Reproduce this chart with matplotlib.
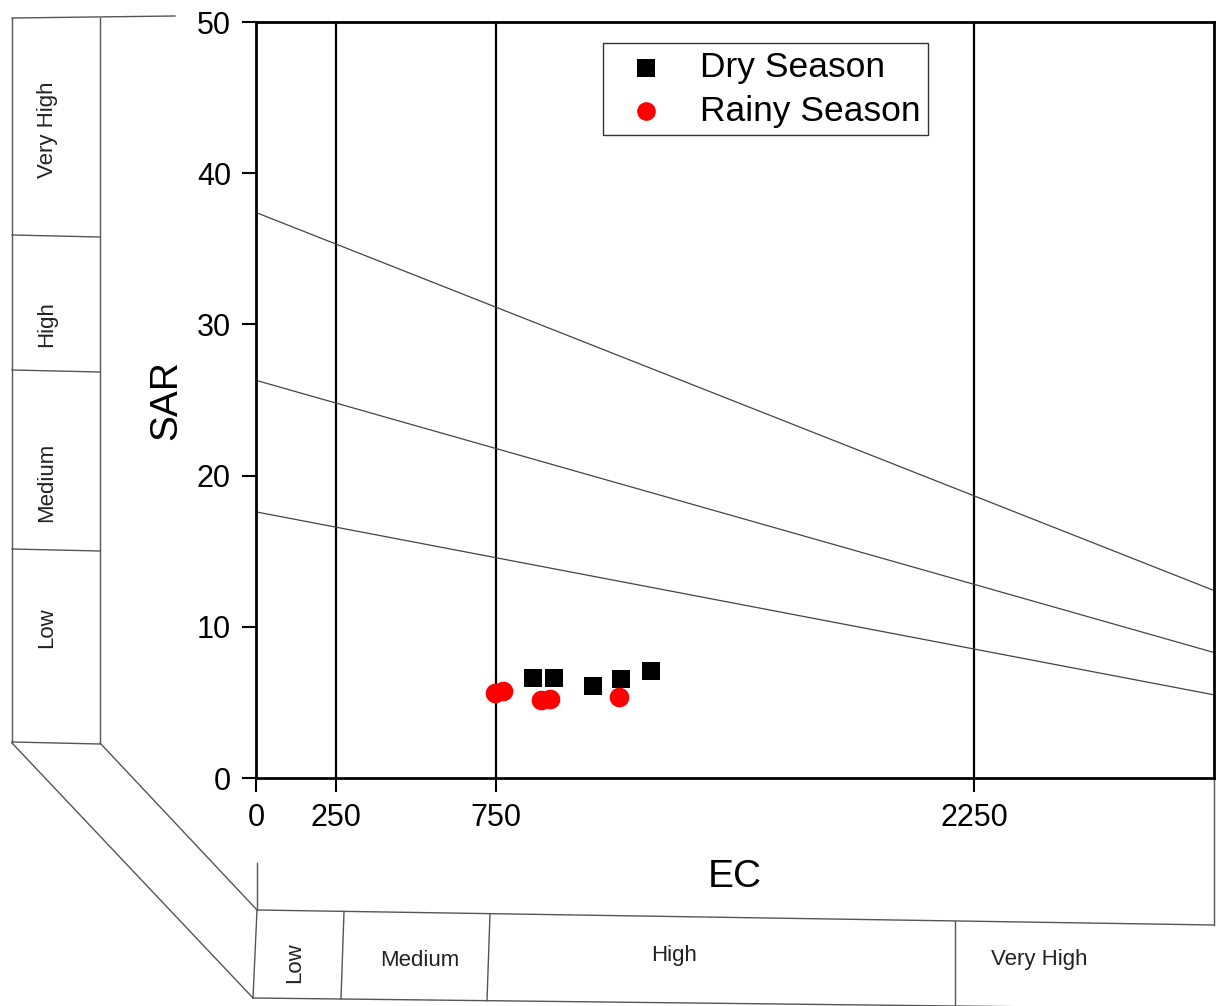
import matplotlib
matplotlib.use('Agg')
import matplotlib.pyplot as plt

plt.rcParams['font.family'] = ['Liberation Sans', 'DejaVu Sans']

# Data
dry_ec = [866, 933, 1055, 1144, 1238]
dry_sar = [6.59, 6.63, 6.10, 6.55, 7.08]
rainy_ec = [748, 774, 892, 920, 1136]
rainy_sar = [5.60, 5.77, 5.16, 5.20, 5.34]

# Salinity class limits (vertical lines) and sodium hazard boundaries
ec_limits = [250, 750, 2250]
ec_span = [0, 3000]
sar_bound_left = [37.4, 26.3, 17.6]
sar_bound_right = [12.4, 8.3, 5.5]

x_ticks = [0, 250, 750, 2250]
y_ticks = [0, 10, 20, 30, 40, 50]

sodium_classes = ['Very High', 'High', 'Medium', 'Low']
salinity_classes = ['Low', 'Medium', 'High', 'Very High']

W, H = 1219, 1006
fig = plt.figure(figsize=(W / 100, H / 100), dpi=100)
fig.patch.set_facecolor('white')

# overlay in pixel coordinates for the decorative class panels
bg = fig.add_axes([0, 0, 1, 1], zorder=0)
bg.set_xlim(0, W)
bg.set_ylim(H, 0)
bg.axis('off')
pc = '#555555'
lw = 1.0

# left panel (sodium hazard)
bg.plot([12, 175], [18, 16], color=pc, lw=lw)
bg.plot([12, 12], [18, 743], color=pc, lw=lw)
bg.plot([100, 100], [18, 743], color=pc, lw=lw)
for yy in [236, 371, 550, 743]:
    bg.plot([12, 100], [yy - 1, yy + 1], color=pc, lw=lw)
bg.plot([12, 253], [743, 998], color=pc, lw=lw)
bg.plot([100, 257], [743, 910], color=pc, lw=lw)
for lab, yc in zip(sodium_classes, [130, 324, 482, 628]):
    bg.text(47, yc, lab, rotation=90, ha='center', va='center', fontsize=16, color='#222222')

# bottom panel (salinity hazard)
def top_y(x):
    return 910 + (x - 257) * (925 - 910) / (1214 - 257)

def bot_y(x):
    return 998 + (x - 253) * (1006 - 998) / (955 - 253)

bg.plot([257, 1214], [910, 925], color=pc, lw=lw)
bg.plot([253, 1219], [998, bot_y(1219)], color=pc, lw=lw)
bg.plot([257, 257], [863, 910], color=pc, lw=lw)
bg.plot([257, 253], [910, 998], color=pc, lw=lw)
bg.plot([1214, 1214], [778, 925], color=pc, lw=lw)
for xt, xb in [(344, 341), (490, 487), (955, 955)]:
    bg.plot([xt, xb], [top_y(xt), bot_y(xb)], color=pc, lw=lw)
bg.text(295, 963, salinity_classes[0], rotation=90, ha='center', va='center', fontsize=16, color='#222222')
for lab, xc, yc in zip(salinity_classes[1:], [420, 674, 1039], [960, 955, 960]):
    bg.text(xc, yc, lab, ha='center', va='center', fontsize=16, color='#222222')

# main chart
ax = fig.add_axes([256 / W, 1 - 778 / H, 958 / W, 756 / H], zorder=1)

for xv in ec_limits:
    ax.axvline(xv, color='black', lw=1.6, zorder=1)
for yl, yr in zip(sar_bound_left, sar_bound_right):
    ax.plot(ec_span, [yl, yr], color='#444444', lw=0.9, zorder=1)

ax.scatter(dry_ec, dry_sar, marker='s', s=170, color='black', lw=0, zorder=3, label='Dry Season')
ax.scatter(rainy_ec, rainy_sar, marker='o', s=200, color='red', lw=0, zorder=3, label='Rainy Season')

ax.set_xlim(0, 3000)
ax.set_ylim(0, 50)
ax.set_xticks(x_ticks)
ax.set_yticks(y_ticks)
ax.tick_params(axis='both', direction='out', length=10, width=1.5, labelsize=22, pad=8)
for s in ax.spines.values():
    s.set_linewidth(2.0)

ax.set_ylabel('SAR', fontsize=28, labelpad=9)
ax.set_xlabel('EC', fontsize=28, labelpad=19)

leg = ax.legend(loc='upper left', bbox_to_anchor=(0.362, 0.972), borderaxespad=0,
                fontsize=25.5, frameon=True, fancybox=False, handletextpad=0.52,
                borderpad=0.22, labelspacing=0.3, handlelength=2.0, markerscale=0.95)
leg.get_frame().set_edgecolor('black')
leg.get_frame().set_linewidth(1.0)

fig.savefig('out.png', dpi=100, facecolor='white')
